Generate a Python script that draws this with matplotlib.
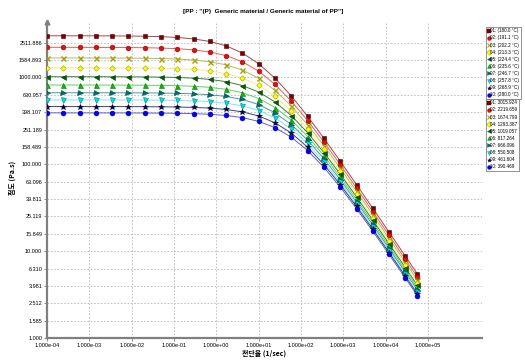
import matplotlib
matplotlib.use("Agg")
import matplotlib.pyplot as plt
from matplotlib.lines import Line2D

plt.rcParams["font.family"] = ["Noto Sans CJK KR", "DejaVu Sans"]

# shear rate (1/sec)
shear_rate = [1.000e-4, 2.427e-4, 5.888e-4, 1.429e-3, 3.467e-3, 8.414e-3,
              2.042e-2, 4.955e-2, 0.1202, 0.2917, 0.7079, 1.718, 4.169,
              10.12, 24.55, 59.57, 144.5, 350.8, 851.1, 2065, 5012,
              12160, 29510, 56230]

temps = [180.0, 191.1, 202.2, 213.3, 224.4, 235.6, 246.7, 257.8, 268.9, 280.0]
zero_visc = [3015.924, 2219.659, 1674.799, 1293.387, 1019.057,
             817.264, 666.096, 550.508, 461.604, 390.469]

# viscosity (Pa.s) per temperature
visc_01 = [3015, 3015, 3013, 3010, 3005, 2996, 2979, 2945, 2884, 2776, 2594, 2309,
           1905, 1433, 977.0, 610.2, 356.1, 199.3, 108.5, 58.33, 31.11, 16.52, 8.733, 5.503]
visc_02 = [2219, 2219, 2218, 2216, 2213, 2208, 2197, 2178, 2142, 2076, 1964, 1781,
           1513, 1178, 831.0, 533.3, 317.8, 180.1, 98.97, 53.43, 28.49, 15.14, 8.030, 5.051]
visc_03 = [1675, 1675, 1674, 1673, 1671, 1667, 1661, 1649, 1627, 1586, 1514, 1395,
           1213, 973.2, 708.5, 467.6, 284.0, 163.1, 90.33, 48.98, 26.25, 13.98, 7.397, 4.665]
visc_04 = [1293, 1293, 1293, 1292, 1291, 1288, 1284, 1277, 1262, 1236, 1189, 1108,
           982.7, 809.1, 606.6, 411.6, 255.4, 148.8, 83.15, 45.32, 24.34, 12.95, 6.877, 4.337]
visc_05 = [1019, 1019, 1019, 1018, 1017, 1016, 1013, 1008, 998.4, 980.6, 948.7, 893.5,
           804.8, 677.8, 521.3, 363.0, 230.6, 136.4, 76.91, 42.06, 22.67, 12.11, 6.433, 4.050]
visc_06 = [817.3, 817.1, 816.9, 816.7, 816.1, 815.2, 813.3, 809.8, 803.1, 790.8, 768.5, 729.7,
           666.2, 571.7, 450.4, 321.6, 208.7, 125.3, 71.41, 39.26, 21.23, 11.36, 6.041, 3.805]
visc_07 = [666.1, 665.9, 665.9, 665.6, 665.3, 664.5, 663.3, 660.7, 656.1, 647.4, 631.6, 603.6,
           557.0, 486.1, 391.2, 285.9, 189.4, 115.6, 66.52, 36.81, 19.97, 10.71, 5.700, 3.591]
visc_08 = [550.5, 550.4, 550.4, 550.3, 549.9, 549.5, 548.5, 546.7, 543.4, 537.0, 525.5, 505.0,
           470.4, 415.9, 341.5, 255.0, 172.4, 106.9, 62.06, 34.64, 18.87, 10.13, 5.401, 3.405]
visc_09 = [461.6, 461.5, 461.5, 461.4, 461.2, 460.9, 460.1, 458.7, 456.2, 451.6, 443.0, 427.3,
           401.2, 359.4, 299.9, 228.4, 157.4, 99.15, 58.31, 32.69, 17.87, 9.618, 5.133, 3.237]
visc_10 = [390.5, 390.4, 390.4, 390.3, 390.1, 389.8, 389.3, 388.3, 386.4, 382.9, 376.4, 364.8,
           344.5, 311.6, 264.1, 204.8, 143.9, 92.04, 54.61, 30.89, 16.96, 9.149, 4.888, 3.085]

series = [visc_01, visc_02, visc_03, visc_04, visc_05,
          visc_06, visc_07, visc_08, visc_09, visc_10]

y_ticks = [1.000, 1.585, 2.512, 3.981, 6.310, 10.000, 15.849, 25.119, 39.811, 63.096,
           100.000, 158.489, 251.189, 398.107, 630.957, 1000.000, 1584.893, 2511.886]
x_ticks = [1e-4, 1e-3, 1e-2, 1e-1, 1e0, 1e1, 1e2, 1e3, 1e4, 1e5]

line_colors = ["#a84848", "#e06060", "#b8b860", "#f0f080", "#3c803c",
               "#60d060", "#40a0a0", "#80e8e8", "#404080", "#6060c8"]
markers = ["s", "o", "x", "D", "<", "^", ">", "v", "*", "o"]
face_colors = ["#800000", "#e01010", "#b0b000", "#ffff00", "#006000",
               "#00c000", "#007070", "#00e0e0", "#000040", "#0000ff"]
edge_colors = ["#400000", "#a00000", "#a0a000", "#a0a000", "#003800",
               "#007800", "#004040", "#008080", "#000020", "#0000a0"]
marker_sizes = [3.4, 3.4, 3.6, 2.8, 3.6, 3.6, 3.6, 3.6, 4.4, 3.5]

fig = plt.figure(figsize=(5.25, 3.61), dpi=100)
ax = fig.add_axes([47 / 525, 23 / 361, 435 / 525, 316 / 361])

for i, vals in enumerate(series):
    ax.plot(shear_rate, vals, color=line_colors[i], lw=0.7, zorder=2)
    ax.plot(shear_rate, vals, linestyle="none", marker=markers[i],
            ms=marker_sizes[i], mfc=face_colors[i], mec=edge_colors[i],
            mew=1.0 if markers[i] == "x" else 0.4, zorder=3)

ax.set_xscale("log")
ax.set_yscale("log")
ax.set_xlim(1e-4, 10 ** 6.28)
ax.set_ylim(1, 10 ** 3.638)

ax.set_xticks(x_ticks)
ax.set_xticklabels(["%.3e" % v for v in x_ticks], fontsize=4.0, family="Liberation Sans")
ax.set_yticks(y_ticks)
ax.set_yticklabels(["%.3f" % v for v in y_ticks], fontsize=4.0, family="Liberation Sans")
ax.minorticks_off()
ax.tick_params(length=2, width=0.5, color="#606060", pad=1.5)

ax.grid(True, color="#b8b8b8", linestyle=(0, (2, 2)), lw=0.6)
ax.set_axisbelow(True)

for side in ["top", "right"]:
    ax.spines[side].set_visible(False)
for side in ["left", "bottom"]:
    ax.spines[side].set_color("#808080")
    ax.spines[side].set_linewidth(1.6)
ax.plot([0], [1], marker="^", ms=3.5, color="#808080", transform=ax.transAxes,
        clip_on=False)

ax.set_xlabel("전단율 (1/sec)", fontsize=5.0, fontweight="bold", labelpad=1)
fig.text(12 / 525, 1 - 178 / 361, "점도 (Pa.s)", rotation=90, ha="center", va="center",
         fontsize=5.0, fontweight="bold")
fig.text(263 / 525, 1 - 12 / 361, '[PP : "(P)  Generic material / Generic material of PP"]',
         ha="center", va="center", fontsize=4.6, fontweight="bold",
         family="Liberation Sans")

handles = []
for i in range(10):
    handles.append(Line2D([], [], linestyle="none", marker=markers[i], ms=2.8,
                          mfc=face_colors[i], mec=edge_colors[i],
                          mew=0.7 if markers[i] == "x" else 0.3))

temp_labels = ["%02d: (%.1f °C)" % (i + 1, t) for i, t in enumerate(temps)]
visc_labels = ["%02d: %.3f" % (i + 1, v) for i, v in enumerate(zero_visc)]

leg_kw = dict(loc="upper left", handlelength=0.5, handletextpad=0.15,
              labelspacing=0.46, borderpad=0.3, borderaxespad=0, frameon=True,
              fancybox=False, edgecolor="#808080", framealpha=1,
              prop={"family": "Liberation Sans", "size": 3.3})
leg1 = fig.legend(handles, temp_labels, bbox_to_anchor=(486 / 525, 1 - 27 / 361), **leg_kw)
leg1.get_frame().set_linewidth(0.6)
leg2 = fig.legend(handles, visc_labels, bbox_to_anchor=(486 / 525, 1 - 99 / 361), **leg_kw)
leg2.get_frame().set_linewidth(0.6)

fig.savefig("out.png", dpi=100)
